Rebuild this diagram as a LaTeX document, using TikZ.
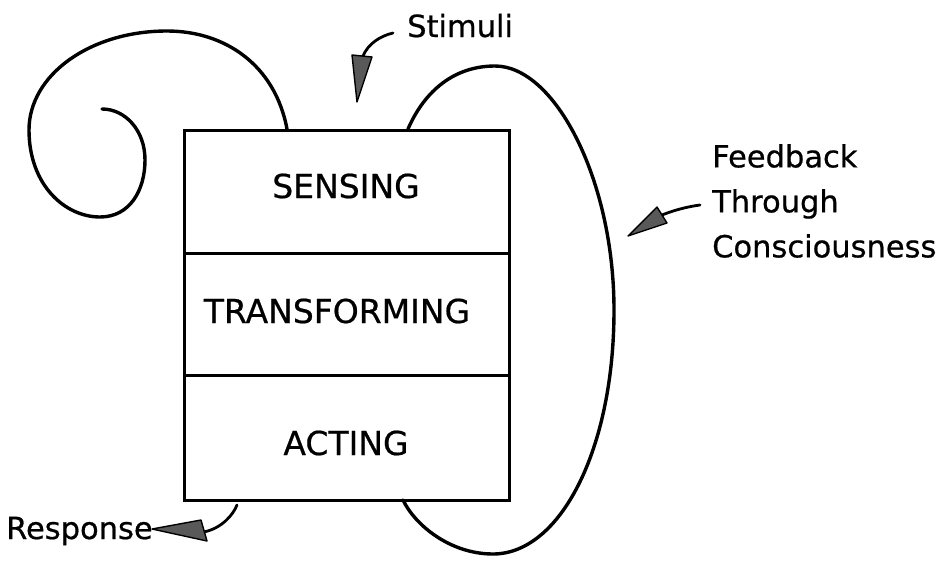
\documentclass[tikz,border=0pt]{standalone}
\usepackage{fontspec}
\setmainfont{DejaVu Sans}[FakeBold=0.6]
\begin{document}
\begin{tikzpicture}[x=1pt,y=-1pt,
  curve/.style={line width=3.4pt, line cap=round, line join=round},
  boxpart/.style={draw, line width=3pt, minimum width=325pt, inner sep=0pt, anchor=north west},
  boxtext/.style={font=\fontsize{33}{33}\selectfont, inner sep=0pt},
  labeltext/.style={font=\fontsize{30.5}{45}\selectfont, inner sep=0pt},
  headfill/.style={draw, line width=1.4pt, fill=black!65, line join=round},
  thinline/.style={line width=2.8pt, line cap=round}]
\useasboundingbox (0,0) rectangle (946,563);

% box
\node[boxpart, minimum height=123pt] (sense) at (183,129) {};
\node[boxpart, minimum height=122pt] (transform) at (183,252) {};
\node[boxpart, minimum height=125pt] (act) at (183,374) {};
\node[boxtext, anchor=base] (tsense) at (346,198) {SENSING};
\node[boxtext, anchor=base] (ttransform) at (337,323) {TRANSFORMING};
\node[boxtext, anchor=base] (tact) at (346,455) {ACTING};

% left spiral
\coordinate (lstart) at (287,129);
\coordinate (lend) at (102,109);
\draw[curve] (lstart) .. controls (275,65) and (225,31) .. (167,31)
  .. controls (90,31) and (29,75) .. (29,130)
  .. controls (29,185) and (65,217) .. (100,217)
  .. controls (130,217) and (145,190) .. (145,160)
  .. controls (145,130) and (125,109) .. (lend);

% right loop
\coordinate (rstart) at (408,129);
\coordinate (rend) at (403,500);
\draw[curve] (rstart) .. controls (425,90) and (455,66) .. (495,66)
  .. controls (555,66) and (614,180) .. (614,310)
  .. controls (614,450) and (560,554) .. (493,554)
  .. controls (450,554) and (415,525) .. (rend);

% labels
\node[labeltext, anchor=base west] (stim) at (407,37) {Stimuli};
\node[labeltext, anchor=base west] (resp) at (6,539) {Response};
\node[labeltext, anchor=north west, align=left] (feed) at (712,144)
  {Feedback\\Through\\Consciousness};

% stimuli arrow
\coordinate (s0) at (393,33);
\coordinate (s1) at (363,56);
\draw[thinline] (s0) .. controls (380,36) and (368,44) .. (s1);
\draw[headfill] (352,55) -- (372,57) -- (357,102) -- cycle;

% response arrow
\coordinate (r0) at (237,505);
\coordinate (r1) at (204,532);
\draw[thinline] (r0) .. controls (233,515) and (222,528) .. (r1);
\draw[headfill] (201,520) -- (207,541) -- (152,529) -- cycle;

% feedback arrow
\coordinate (f0) at (700,205);
\coordinate (f1) at (662,215);
\draw[thinline] (f0) .. controls (685,207) and (672,211) .. (f1);
\draw[headfill] (657,207) -- (667,223) -- (628,236) -- cycle;
\end{tikzpicture}
\end{document}
